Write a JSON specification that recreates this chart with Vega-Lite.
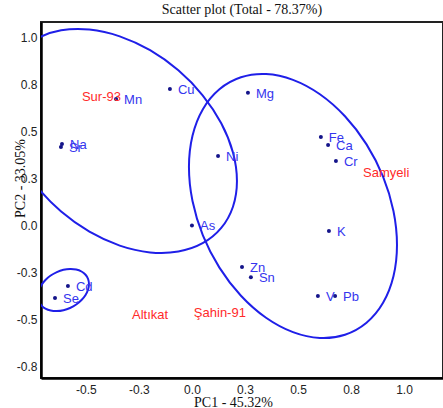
{
  "$schema": "https://vega.github.io/schema/vega-lite/v6.json",
  "width": 402,
  "height": 356,
  "autosize": "none",
  "padding": {"left": 41, "top": 22, "right": 0, "bottom": 30},
  "background": "white",
  "title": {"text": "Scatter plot (Total - 78.37%)", "font": "Liberation Serif", "fontSize": 14, "fontWeight": "normal", "color": "#111", "anchor": "middle", "offset": 5},
  "config": {
    "view": {"stroke": "#222", "strokeWidth": 2},
    "axis": {"grid": false, "ticks": false, "domainColor": "#000", "domainWidth": 2.5, "labelFont": "Liberation Sans", "labelFontSize": 12, "labelColor": "#222", "titleFont": "Liberation Serif", "titleFontSize": 14, "titleFontWeight": "normal", "titleColor": "#111"}
  },
  "datasets": {
    "pts": [
      {"el": "Cu", "x": -0.104, "y": 0.728},
      {"el": "Mn", "x": -0.358, "y": 0.674},
      {"el": "Mg", "x": 0.264, "y": 0.707},
      {"el": "Fe", "x": 0.608, "y": 0.472},
      {"el": "Ca", "x": 0.642, "y": 0.429},
      {"el": "Cr", "x": 0.679, "y": 0.344},
      {"el": "Ni", "x": 0.123, "y": 0.370},
      {"el": "Na", "x": -0.613, "y": 0.434},
      {"el": "Sr", "x": -0.618, "y": 0.418},
      {"el": "As", "x": 0.0, "y": 0.0},
      {"el": "K", "x": 0.646, "y": -0.030},
      {"el": "Zn", "x": 0.236, "y": -0.222},
      {"el": "Sn", "x": 0.278, "y": -0.276},
      {"el": "V", "x": 0.594, "y": -0.376},
      {"el": "Pb", "x": 0.675, "y": -0.376},
      {"el": "Cd", "x": -0.585, "y": -0.323},
      {"el": "Se", "x": -0.646, "y": -0.387}
    ],
    "grp": [
      {"g": "Sur-93", "x": -0.519, "y": 0.685},
      {"g": "Samyeli", "x": 0.807, "y": 0.280},
      {"g": "Altıkat", "x": -0.283, "y": -0.478},
      {"g": "Şahin-91", "x": 0.009, "y": -0.467}
    ],
    "ell": [
      {"e": 1, "i": 0, "x": 0.2122, "y": 0.2370},
      {"e": 1, "i": 1, "x": 0.1934, "y": 0.3888},
      {"e": 1, "i": 2, "x": 0.1381, "y": 0.5447},
      {"e": 1, "i": 3, "x": 0.0503, "y": 0.6942},
      {"e": 1, "i": 4, "x": -0.0642, "y": 0.8271},
      {"e": 1, "i": 5, "x": -0.1975, "y": 0.9344},
      {"e": 1, "i": 6, "x": -0.3406, "y": 1.0086},
      {"e": 1, "i": 7, "x": -0.4837, "y": 1.0448},
      {"e": 1, "i": 8, "x": -0.6170, "y": 1.0405},
      {"e": 1, "i": 9, "x": -0.7315, "y": 0.9960},
      {"e": 1, "i": 10, "x": -0.8193, "y": 0.9143},
      {"e": 1, "i": 11, "x": -0.8746, "y": 0.8010},
      {"e": 1, "i": 12, "x": -0.8934, "y": 0.6638},
      {"e": 1, "i": 13, "x": -0.8746, "y": 0.5120},
      {"e": 1, "i": 14, "x": -0.8193, "y": 0.3561},
      {"e": 1, "i": 15, "x": -0.7315, "y": 0.2066},
      {"e": 1, "i": 16, "x": -0.6170, "y": 0.0737},
      {"e": 1, "i": 17, "x": -0.4837, "y": -0.0336},
      {"e": 1, "i": 18, "x": -0.3406, "y": -0.1078},
      {"e": 1, "i": 19, "x": -0.1975, "y": -0.1440},
      {"e": 1, "i": 20, "x": -0.0642, "y": -0.1397},
      {"e": 1, "i": 21, "x": 0.0503, "y": -0.0952},
      {"e": 1, "i": 22, "x": 0.1381, "y": -0.0135},
      {"e": 1, "i": 23, "x": 0.1934, "y": 0.0998},
      {"e": 2, "i": 0, "x": 0.9670, "y": -0.1046},
      {"e": 2, "i": 1, "x": 0.9503, "y": 0.0766},
      {"e": 2, "i": 2, "x": 0.9013, "y": 0.2598},
      {"e": 2, "i": 3, "x": 0.8233, "y": 0.4322},
      {"e": 2, "i": 4, "x": 0.7217, "y": 0.5821},
      {"e": 2, "i": 5, "x": 0.6034, "y": 0.6996},
      {"e": 2, "i": 6, "x": 0.4764, "y": 0.7764},
      {"e": 2, "i": 7, "x": 0.3494, "y": 0.8074},
      {"e": 2, "i": 8, "x": 0.2311, "y": 0.7903},
      {"e": 2, "i": 9, "x": 0.1295, "y": 0.7264},
      {"e": 2, "i": 10, "x": 0.0515, "y": 0.6202},
      {"e": 2, "i": 11, "x": 0.0025, "y": 0.4786},
      {"e": 2, "i": 12, "x": -0.0142, "y": 0.3116},
      {"e": 2, "i": 13, "x": 0.0025, "y": 0.1304},
      {"e": 2, "i": 14, "x": 0.0515, "y": -0.0528},
      {"e": 2, "i": 15, "x": 0.1295, "y": -0.2252},
      {"e": 2, "i": 16, "x": 0.2311, "y": -0.3751},
      {"e": 2, "i": 17, "x": 0.3494, "y": -0.4926},
      {"e": 2, "i": 18, "x": 0.4764, "y": -0.5694},
      {"e": 2, "i": 19, "x": 0.6034, "y": -0.6004},
      {"e": 2, "i": 20, "x": 0.7217, "y": -0.5833},
      {"e": 2, "i": 21, "x": 0.8233, "y": -0.5194},
      {"e": 2, "i": 22, "x": 0.9013, "y": -0.4132},
      {"e": 2, "i": 23, "x": 0.9503, "y": -0.2716},
      {"e": 3, "i": 0, "x": -0.4858, "y": -0.3127},
      {"e": 3, "i": 1, "x": -0.4899, "y": -0.2859},
      {"e": 3, "i": 2, "x": -0.5019, "y": -0.2631},
      {"e": 3, "i": 3, "x": -0.5210, "y": -0.2459},
      {"e": 3, "i": 4, "x": -0.5459, "y": -0.2353},
      {"e": 3, "i": 5, "x": -0.5750, "y": -0.2323},
      {"e": 3, "i": 6, "x": -0.6061, "y": -0.2369},
      {"e": 3, "i": 7, "x": -0.6372, "y": -0.2489},
      {"e": 3, "i": 8, "x": -0.6663, "y": -0.2673},
      {"e": 3, "i": 9, "x": -0.6912, "y": -0.2911},
      {"e": 3, "i": 10, "x": -0.7103, "y": -0.3185},
      {"e": 3, "i": 11, "x": -0.7223, "y": -0.3477},
      {"e": 3, "i": 12, "x": -0.7264, "y": -0.3767},
      {"e": 3, "i": 13, "x": -0.7223, "y": -0.4035},
      {"e": 3, "i": 14, "x": -0.7103, "y": -0.4263},
      {"e": 3, "i": 15, "x": -0.6912, "y": -0.4435},
      {"e": 3, "i": 16, "x": -0.6663, "y": -0.4541},
      {"e": 3, "i": 17, "x": -0.6372, "y": -0.4571},
      {"e": 3, "i": 18, "x": -0.6061, "y": -0.4525},
      {"e": 3, "i": 19, "x": -0.5750, "y": -0.4405},
      {"e": 3, "i": 20, "x": -0.5459, "y": -0.4221},
      {"e": 3, "i": 21, "x": -0.5210, "y": -0.3983},
      {"e": 3, "i": 22, "x": -0.5019, "y": -0.3709},
      {"e": 3, "i": 23, "x": -0.4899, "y": -0.3417}
    ]
  },
  "encoding": {
    "x": {"field": "x", "type": "quantitative", "scale": {"domain": [-0.712, 1.184], "nice": false, "zero": false}, "axis": {"title": "PC1 - 45.32%", "values": [-0.5, -0.25, 0, 0.25, 0.5, 0.75, 1.0], "labelExpr": "replace(format(datum.value, '.1f'), '\u2212', '-')", "labelPadding": 6, "titleX": 192, "titleY": 24, "titleBaseline": "middle"}},
    "y": {"field": "y", "type": "quantitative", "scale": {"domain": [-0.814, 1.085], "nice": false, "zero": false}, "axis": {"title": "PC2 - 33.05%", "values": [-0.75, -0.5, -0.25, 0, 0.25, 0.5, 0.75, 1.0], "labelExpr": "replace(format(datum.value, '.1f'), '\u2212', '-')", "labelPadding": 4, "titleX": -21, "titleY": 156, "titleBaseline": "middle"}}
  },
  "layer": [
    {
      "data": {"values": [{"v": 0}]},
      "mark": {"type": "rule", "color": "#777", "strokeWidth": 1, "strokeDash": [2, 2]},
      "encoding": {"x": {"datum": 0, "type": "quantitative"}, "y": null}
    },
    {
      "data": {"values": [{"v": 0}]},
      "mark": {"type": "rule", "color": "#777", "strokeWidth": 1, "strokeDash": [2, 2]},
      "encoding": {"y": {"datum": 0, "type": "quantitative"}, "x": null}
    },
    {
      "data": {"name": "ell"},
      "mark": {"type": "line", "interpolate": "cardinal-closed", "color": "#1f1fe8", "strokeWidth": 2, "clip": true},
      "encoding": {"detail": {"field": "e", "type": "nominal"}, "order": {"field": "i", "type": "quantitative"}}
    },
    {
      "data": {"name": "pts"},
      "mark": {"type": "circle", "color": "#14148a", "size": 16, "opacity": 1}
    },
    {
      "data": {"name": "pts"},
      "mark": {"type": "text", "align": "left", "baseline": "middle", "dx": 8, "dy": 1, "font": "Liberation Sans", "fontSize": 13, "color": "#3535ee"},
      "encoding": {"text": {"field": "el"}}
    },
    {
      "data": {"name": "grp"},
      "mark": {"type": "text", "align": "left", "baseline": "middle", "font": "Liberation Sans", "fontSize": 13, "color": "#ff2a2a"},
      "encoding": {"text": {"field": "g"}}
    }
  ]
}
